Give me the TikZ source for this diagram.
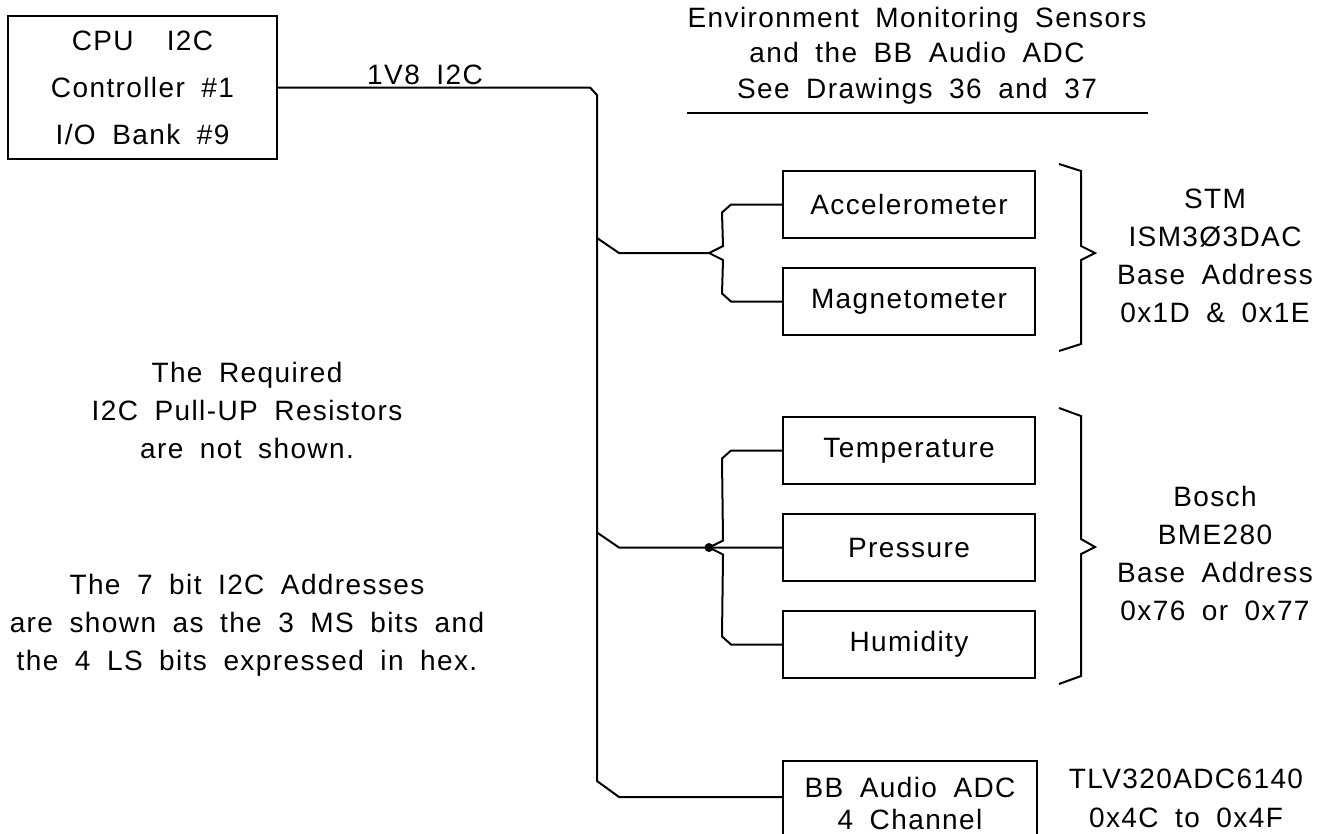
\documentclass[tikz,border=0pt]{standalone}
\usepackage{fontspec}
\setmainfont{Liberation Sans}[LetterSpace=5, WordSpace=1.8]
\usetikzlibrary{calc,positioning}

\newcommand\cadtext[1]{\fontsize{28}{#1}\selectfont}
\tikzset{
  wire/.style={line width=2pt, line join=miter},
  part/.style={draw, line width=2pt, minimum width=252pt, minimum height=67pt,
    inner sep=0pt, font=\cadtext{38}},
  note/.style={align=center, inner sep=0pt, font=\cadtext{38}},
}

\begin{document}
\begin{tikzpicture}[x=1pt,y=-1pt]
  \useasboundingbox (0,0) rectangle (1333,833);
  \clip (0,0) rectangle (1333,833);

  % I2C master
  \node[part, minimum width=269pt, minimum height=143pt, align=center,
    font=\cadtext{47}] (cpu) at (142.5,87.5)
    {CPU~~I2C\\Controller \#1\\I/O Bank \#9};

  % devices on the bus
  \node[part] (acc) at (909,204.5) {Accelerometer};
  \node[part, below=28pt of acc] (mag) {Magnetometer};
  \node[part] (temp) at (909,450.5) {Temperature};
  \node[part, below=28pt of temp] (pres) {Pressure};
  \node[part, below=28pt of pres] (hum) {Humidity};
  \node[part, minimum width=254pt, minimum height=84pt, anchor=north, align=center,
    font=\cadtext{32}] (adc) at (910,760)
    {BB Audio ADC\\4 Channel};

  % bus taps and junctions
  \coordinate (ta) at (597,238);
  \coordinate (tb) at (597,532.5);
  \coordinate (tc) at (597,781);
  \coordinate (ja) at (709,253);
  \coordinate (jb) at (709,547.5);

  % main bus
  \draw[wire] (cpu.east) -- (590,87.5) -- (597,95) -- (tc) -- ++(22,16)
    -- ($(adc.north west)+(0,37)$);
  \node[font=\cadtext{38}, inner sep=0pt] (lbus) at (425,75) {1V8 I2C};

  % STM branch
  \draw[wire] (ta) -- ++(22,15) -- (ja);
  \draw[wire] (ja) -- ++(14,-7) -- ($(acc.west)+(-60,8)$) -- ($(acc.west)+(-51,0)$) -- (acc.west);
  \draw[wire] (ja) -- ++(14,7) -- ($(mag.west)+(-60,-8)$) -- ($(mag.west)+(-51,0)$) -- (mag.west);

  % Bosch branch
  \draw[wire] (tb) -- ++(22,15) -- (jb) -- (pres.west);
  \draw[wire] (jb) -- ++(14,-7) -- ($(temp.west)+(-60,8)$) -- ($(temp.west)+(-51,0)$) -- (temp.west);
  \draw[wire] (jb) -- ++(14,7) -- ($(hum.west)+(-60,-8)$) -- ($(hum.west)+(-51,0)$) -- (hum.west);
  \fill (jb) circle (4.5pt);

  % braces
  \draw[wire] (1059,164) -- (1081,171) -- (1081,246) -- (1095,253) -- (1081,260)
    -- (1081,344) -- (1059,351);
  \draw[wire] (1059,408) -- (1081,416) -- (1081,539) -- (1095,547) -- (1081,554)
    -- (1081,676) -- (1059,684);

  % text
  \node[note, font=\cadtext{35.5}] (hdr) at (917,55.5)
    {Environment Monitoring Sensors\\and the BB Audio ADC\\See Drawings 36 and 37};
  \draw[wire] (687,113) -- (1148,113);
  \node[note] (stm) at (1215,255.5) {STM\\ISM3Ø3DAC\\Base Address\\0x1D \& 0x1E};
  \node[note] (bosch) at (1215,553) {Bosch\\BME280\\Base Address\\0x76 or 0x77};
  \node[note, font=\cadtext{39}] (tlv) at (1186,798.5)
    {TLV320ADC6140\\0x4C to 0x4F};
  \node[note] (pull) at (247,410) {The Required\\I2C Pull-UP Resistors\\are not shown.};
  \node[note] (addr) at (247,625)
    {The 7 bit I2C Addresses\\are shown as the 3 MS bits and\\the 4 LS bits expressed in hex.};
\end{tikzpicture}
\end{document}
